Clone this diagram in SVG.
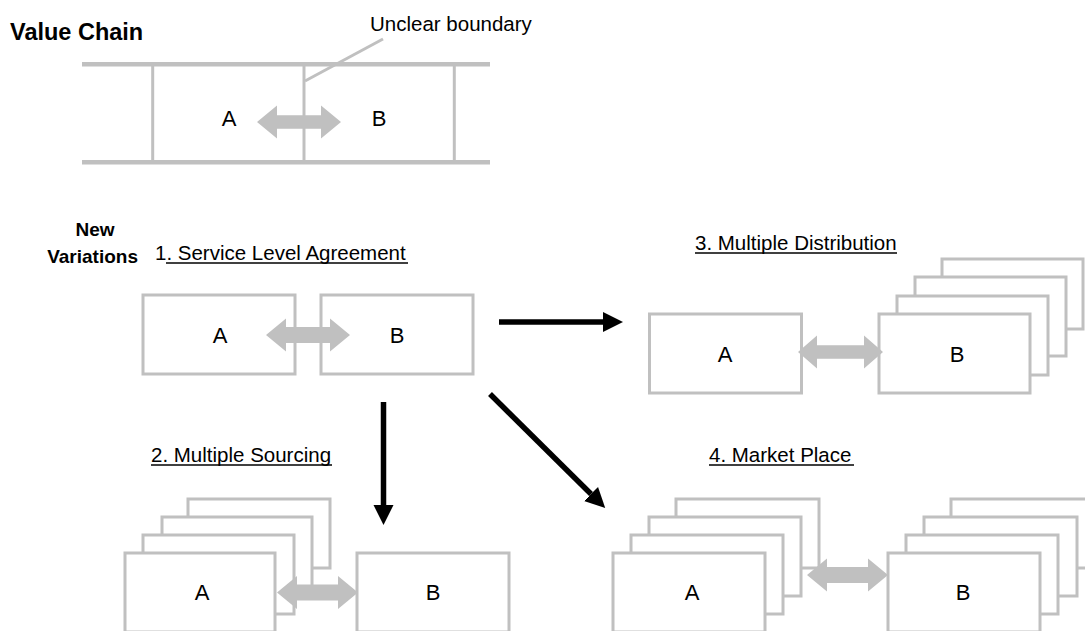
<svg xmlns="http://www.w3.org/2000/svg" width="1085" height="631" viewBox="0 0 1085 631">
<style>
.box{fill:#fff;stroke:#c0c0c0;stroke-width:3}
.gl{stroke:#c0c0c0;stroke-width:3;fill:none}
.gh{stroke:#c0c0c0;stroke-width:4.5;fill:none}
.ga{fill:#c0c0c0}
.ba{stroke:#000;stroke-width:5.5;fill:none}
.t{font-family:"Liberation Sans",Arial,Helvetica,sans-serif;font-size:20.5px;fill:#000}
.c{text-anchor:middle}
.b{font-weight:bold}
.L{font-size:22px}
.ul{stroke:#000;stroke-width:1.5}
</style>
<defs>
<marker id="head" markerUnits="userSpaceOnUse" markerWidth="21" markerHeight="22" viewBox="0 -11 21 22" refX="0" refY="0" orient="auto">
<path d="M0,-10 L20,0 L0,10 Z" fill="#000"/>
</marker>
</defs>

<g id="value-chain">
<text class="t b" x="10" y="40" style="font-size:23.5px">Value Chain</text>
<line class="gh" x1="82" y1="64.3" x2="490" y2="64.3"/>
<line class="gh" x1="82" y1="162.3" x2="490" y2="162.3"/>
<line class="gl" x1="152.7" y1="64" x2="152.7" y2="162"/>
<line class="gl" x1="304" y1="64" x2="304" y2="162"/>
<line class="gl" x1="454.3" y1="64" x2="454.3" y2="162"/>
<line class="gl" x1="305" y1="81" x2="383" y2="39"/>
<text class="t" x="370" y="31">Unclear boundary</text>
<polygon class="ga" points="257,122 277,105.5 277,115.3 321,115.3 321,105.5 341,122 321,138.5 321,128.7 277,128.7 277,138.5"/>
<text class="t L c" x="229" y="126">A</text>
<text class="t L c" x="379" y="126">B</text>
</g>

<g id="new-variations">
<text class="t b c" x="95" y="236" style="font-size:19px">New</text>
<text class="t b" x="138" y="263" text-anchor="end" style="font-size:19px">Variations</text>
</g>

<g id="sla">
<text class="t" x="155" y="260">1. Service Level Agreement</text>
<line class="ul" x1="166" y1="263" x2="408" y2="263"/>
<rect class="box" x="143" y="295" width="152" height="79"/>
<rect class="box" x="321" y="295" width="152" height="79"/>
<polygon class="ga" points="266,335 286,318.5 286,327 330,327 330,318.5 350,335 330,351.5 330,343 286,343 286,351.5"/>
<text class="t L c" x="220" y="343">A</text>
<text class="t L c" x="397" y="343">B</text>
</g>

<g id="multiple-distribution">
<text class="t" x="695" y="250">3. Multiple Distribution</text>
<line class="ul" x1="695" y1="253" x2="897" y2="253"/>
<rect class="box" x="649.5" y="314" width="152" height="79"/>
<rect class="box" x="942" y="259" width="141" height="70"/>
<rect class="box" x="915" y="277" width="151" height="79"/>
<rect class="box" x="897" y="296" width="151" height="79"/>
<rect class="box" x="879" y="314" width="151" height="79"/>
<polygon class="ga" points="798,352 817,335.5 817,345.3 864,345.3 864,335.5 883,352 864,368.5 864,358.7 817,358.7 817,368.5"/>
<text class="t L c" x="725" y="362">A</text>
<text class="t L c" x="957" y="362">B</text>
</g>

<g id="multiple-sourcing">
<text class="t" x="151" y="462">2. Multiple Sourcing</text>
<line class="ul" x1="151" y1="465" x2="332" y2="465"/>
<rect class="box" x="188" y="499" width="142" height="69"/>
<rect class="box" x="162" y="517" width="150" height="79"/>
<rect class="box" x="143" y="535" width="151" height="79"/>
<rect class="box" x="125" y="553" width="150" height="79"/>
<rect class="box" x="357" y="553" width="152" height="79"/>
<polygon class="ga" points="277,592.5 297,576 297,584.5 338,584.5 338,576 358,592.5 338,609 338,600.5 297,600.5 297,609"/>
<text class="t L c" x="202" y="600">A</text>
<text class="t L c" x="433" y="600">B</text>
</g>

<g id="market-place">
<text class="t" x="709" y="462">4. Market Place</text>
<line class="ul" x1="709" y1="465" x2="854" y2="465"/>
<rect class="box" x="676" y="499" width="143" height="69"/>
<rect class="box" x="649" y="517" width="152" height="79"/>
<rect class="box" x="631" y="535" width="152" height="79"/>
<rect class="box" x="613" y="553" width="152" height="79"/>
<rect class="box" x="951" y="499" width="142" height="69"/>
<rect class="box" x="924" y="517" width="153" height="79"/>
<rect class="box" x="906" y="535" width="152" height="79"/>
<rect class="box" x="888" y="553" width="152" height="79"/>
<polygon class="ga" points="807,575 827,558.5 827,567 868,567 868,558.5 888,575 868,591.5 868,583 827,583 827,591.5"/>
<text class="t L c" x="692" y="600">A</text>
<text class="t L c" x="963" y="600">B</text>
</g>

<g id="connectors">
<line class="ba" x1="499" y1="322" x2="603" y2="322" marker-end="url(#head)"/>
<line class="ba" x1="383.5" y1="402" x2="383.5" y2="505" marker-end="url(#head)"/>
<line class="ba" x1="490" y1="394" x2="591" y2="494" marker-end="url(#head)"/>
</g>
</svg>
